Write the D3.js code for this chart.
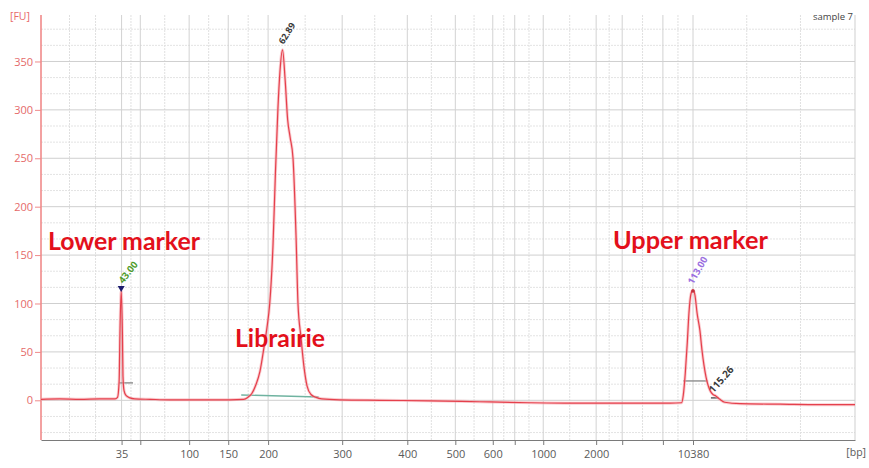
<!DOCTYPE html>
<html>
<head>
<meta charset="utf-8">
<script src="https://cdn.jsdelivr.net/npm/d3@7"></script>
<style>
  html, body { margin: 0; padding: 0; background: #fff; }
  svg { display: block; }
</style>
</head>
<body>
<svg id="chart" width="869" height="468"></svg>
<script>
// ---------------- DATA ----------------
// Ladder (bp) and its migration time (s)
const ladderBp    = [35, 50, 100, 150, 200, 300, 400, 500, 600, 700, 1000, 2000, 3000, 7000, 10380];
const ladderTime  = [29.9, 32.2, 38.2, 43.0, 47.9, 57.0, 65.0, 70.9, 75.5, 78.2, 81.7, 88.2, 91.4, 96.4, 100.1];
const labeledBp   = [35, 100, 150, 200, 300, 400, 500, 600, 1000, 2000, 10380];
const yTicks      = [0, 50, 100, 150, 200, 250, 300, 350];

// Electropherogram trace: time (s) and fluorescence (FU)
const traceTime = [20, 22.3, 24.8, 27.2, 29.1, 29.4, 29.6, 29.7, 29.85, 30.0, 30.07, 30.2, 30.44, 30.93, 31.5,
  33.4, 35.8, 39.5, 43.2, 44.9, 45.4, 45.9, 46.4, 46.9, 47.4, 47.76, 48.1, 48.5, 48.8, 49.1, 49.36, 49.67,
  50.0, 50.3, 50.6, 50.96, 51.33, 51.57, 51.94, 52.3, 52.68, 53.17, 53.8, 54.5, 56.7, 61.6,
  67.8, 73.9, 80.1, 86.2, 92.4, 97.3, 98.7, 98.9, 99.15, 99.4, 99.6, 99.85, 100.1, 100.35, 100.6, 100.95,
  101.2, 101.45, 101.7, 101.9, 102.2, 102.55, 102.9, 103.4, 104.0, 105.9, 110.8, 115.7, 120];
const traceFU = [1, 1.5, 1, 1.5, 1.5, 3, 20, 70, 113, 70, 25, 10, 5, 2.5, 1.5,
  1, 0.5, 0.5, 0.5, 1, 3, 7, 16, 30, 55, 75, 100, 160, 235, 300, 340, 362,
  330, 290, 272, 250, 170, 100, 65, 35, 15, 6, 3, 1.5, 0.5, 0,
  -0.5, -1.5, -2.5, -3, -3, -3, -2.5, 5, 28, 60, 90, 110, 114, 108, 90, 72,
  52, 36, 24, 17, 10, 6, 4.5, 1, -2, -3.5, -4, -4.5, -4.5];

// Peak labels
const peakTime   = [29.85, 49.67, 100.1, 102.6];
const peakFU     = [113, 362, 114, 5];
const peakLabel  = ["43.00", "62.89", "113.00", "115.26"];
const peakColor  = ["#4f9a2a", "#3a3a3a", "#9b6fe0", "#3a3a3a"];

// Integration baselines: start time, end time, start FU, end FU
const integStart = [29.6, 44.6, 98.9, 102.3];
const integEnd   = [31.3, 54.1, 101.9, 103.2];
const integFU0   = [18, 5.5, 20, 2.5];
const integFU1   = [18, 3.4, 20, 2.5];
const integColor = ["#8c8c8c", "#6fb3a0", "#8c8c8c", "#555555"];

// Annotations
const annotText = ["Lower marker", "Librairie", "Upper marker"];

// ---------------- LAYOUT ----------------
const svg = d3.select("#chart");
const L = 41, R = 855, T = 15, B = 440;
const x = d3.scaleLinear().domain([20, 120]).range([L, R]);
const y = d3.scaleLinear().domain([-41, 398]).range([B, T]);
const bpToTime = d3.scaleOrdinal().domain(ladderBp).range(ladderTime);

const fontUI = "'Open Sans', 'DejaVu Sans', sans-serif";

// ---------- grid ----------
const grid = svg.append("g");
const minorY = [];
for (let v = -100/3; v <= 398; v += 50/3) {
  if (Math.abs(v / 50 - Math.round(v / 50)) > 0.01) minorY.push(v);
}
grid.selectAll("line.hmin").data(minorY).join("line")
  .attr("x1", L).attr("x2", R).attr("y1", d => y(d)).attr("y2", d => y(d))
  .attr("stroke", "#e3e3e3").attr("stroke-width", 1).attr("stroke-dasharray", "2,1");
const minorX = [];
for (let i = 0; i < ladderTime.length - 1; i++) minorX.push((ladderTime[i] + ladderTime[i + 1]) / 2);
for (let t = ladderTime[0] - 3.2; t > 20.5; t -= 3.2) minorX.push(t);
for (let t = ladderTime[ladderTime.length - 1] + 6.6; t < 119.5; t += 6.6) minorX.push(t);
grid.selectAll("line.vmin").data(minorX).join("line")
  .attr("y1", T).attr("y2", B).attr("x1", d => x(d)).attr("x2", d => x(d))
  .attr("stroke", "#e0e0e0").attr("stroke-width", 1).attr("stroke-dasharray", "2,1");
grid.selectAll("line.hmaj").data(yTicks).join("line")
  .attr("x1", L).attr("x2", R).attr("y1", d => y(d)).attr("y2", d => y(d))
  .attr("stroke", "#cfcfcf").attr("stroke-width", 1);
grid.selectAll("line.vmaj").data(ladderBp).join("line")
  .attr("y1", T).attr("y2", B).attr("x1", d => x(bpToTime(d))).attr("x2", d => x(bpToTime(d)))
  .attr("stroke", "#d2d2d2").attr("stroke-width", 1);
svg.append("line").attr("x1", R).attr("x2", R).attr("y1", T).attr("y2", B)
  .attr("stroke", "#cfcfcf");

// ---------- axes ----------
const xAxis = d3.axisBottom(x)
  .tickValues(ladderBp.map(b => bpToTime(b)))
  .tickSize(5).tickSizeOuter(0)
  .tickFormat((t, i) => labeledBp.includes(ladderBp[i]) ? String(ladderBp[i]) : "");
const gx = svg.append("g").attr("transform", `translate(0,${B})`).call(xAxis);
gx.select(".domain").attr("stroke", "#7a7a7a").attr("stroke-width", 1.2);
gx.selectAll(".tick line").attr("stroke", "#7a7a7a");
gx.selectAll(".tick text").attr("fill", "#5a5a5a").attr("font-family", fontUI)
  .attr("font-size", 11).attr("dy", "0.95em");

const yAxis = d3.axisLeft(y).tickValues(yTicks).tickSize(6).tickSizeOuter(0);
const gy = svg.append("g").attr("transform", `translate(${L},0)`).call(yAxis);
gy.select(".domain").attr("stroke", "#f08a8a").attr("stroke-width", 1.6)
  .attr("d", `M0,${T}V${B}`);
gy.selectAll(".tick line").attr("stroke", "#f08a8a");
gy.selectAll(".tick text").attr("fill", "#e56a6a").attr("font-family", fontUI)
  .attr("font-size", 11).attr("x", -8);

svg.append("text").attr("x", 10).attr("y", 20).text("[FU]")
  .attr("fill", "#e86a6a").attr("font-family", fontUI).attr("font-size", 10.5);
svg.append("text").attr("x", 866).attr("y", 456).attr("text-anchor", "end").text("[bp]")
  .attr("fill", "#5a5a5a").attr("font-family", fontUI).attr("font-size", 10.5);
svg.append("text").attr("x", 853).attr("y", 20).attr("text-anchor", "end").text("sample 7")
  .attr("fill", "#444").attr("font-family", fontUI).attr("font-size", 9.5);

// ---------- integration lines ----------
svg.selectAll("line.integ").data(integStart).join("line")
  .attr("x1", d => x(d)).attr("x2", (d, i) => x(integEnd[i]))
  .attr("y1", (d, i) => y(integFU0[i])).attr("y2", (d, i) => y(integFU1[i]))
  .attr("stroke", (d, i) => integColor[i]).attr("stroke-width", 1.4);

// ---------- trace ----------
const pts = traceTime.map((t, i) => [t, traceFU[i]]);
const line = d3.line().x(d => x(d[0])).y(d => y(d[1])).curve(d3.curveMonotoneX);
svg.append("path").attr("d", line(pts)).attr("fill", "none")
  .attr("stroke", "#f5a3aa").attr("stroke-width", 3).attr("stroke-opacity", 0.55);
svg.append("path").attr("d", line(pts)).attr("fill", "none")
  .attr("stroke", "#e5404c").attr("stroke-width", 1.2);

const tx = x(peakTime[0]), ty = y(peakFU[0]);
svg.append("path").attr("d", `M${tx - 3.5},${ty - 5}L${tx + 3.5},${ty - 5}L${tx},${ty + 1}Z`)
  .attr("fill", "#1d1d6e");
svg.append("circle").attr("cx", x(peakTime[2])).attr("cy", y(peakFU[2]) + 1).attr("r", 1.8)
  .attr("fill", "#c0303c");

// ---------- peak labels ----------
const labelAngle = [-52, -58, -60, -48];
const labelSize = [9.5, 9, 9.5, 10];
const labelOff = [[2, -7], [1, -5], [0, -5], [0, -2]];
svg.selectAll("text.peak").data(peakLabel).join("text")
  .attr("transform", (d, i) => `translate(${x(peakTime[i]) + labelOff[i][0]},${y(peakFU[i]) + labelOff[i][1]}) rotate(${labelAngle[i]})`)
  .attr("fill", (d, i) => peakColor[i])
  .attr("font-family", fontUI).attr("font-weight", "bold")
  .attr("font-size", (d, i) => labelSize[i])
  .text(d => d);

// ---------- annotations ----------
const annX = [48, 235, 613], annY = [250, 347, 249], annW = [152, 90, 155];
svg.selectAll("text.ann").data(annotText).join("text")
  .attr("x", (d, i) => annX[i]).attr("y", (d, i) => annY[i])
  .attr("fill", "#e3101b").attr("font-family", "Lato, 'Open Sans', sans-serif")
  .attr("font-weight", "bold").attr("font-size", 22)
  .text(d => d)
  .each(function (d, i) {
    const w = this.getComputedTextLength();
    d3.select(this).attr("font-size", 22 * annW[i] / w);
  });
</script>
</body>
</html>
